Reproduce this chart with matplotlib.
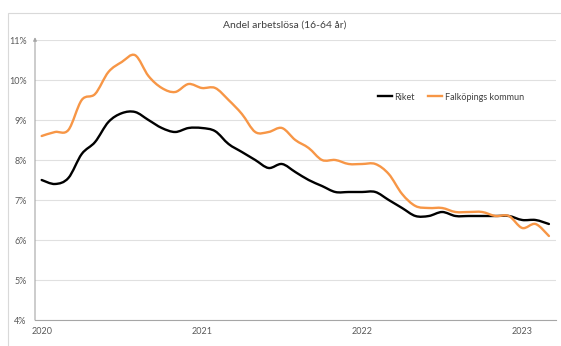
import numpy as np
import matplotlib
matplotlib.use('Agg')
import matplotlib.pyplot as plt
from matplotlib.patches import Rectangle, PathPatch
from matplotlib.path import Path
from matplotlib.lines import Line2D

plt.rcParams['font.family'] = ['Lato', 'DejaVu Sans']

# monthly values, jan 2020 - mar 2023 (percent)
riket = [7.5, 7.4, 7.55, 8.15, 8.45, 8.95, 9.17, 9.2, 9.0, 8.8, 8.7, 8.8,
         8.8, 8.72, 8.4, 8.2, 8.0, 7.8, 7.9, 7.7, 7.5, 7.35, 7.2, 7.2,
         7.2, 7.2, 7.0, 6.8, 6.6, 6.6, 6.7, 6.6, 6.6, 6.6, 6.6, 6.6,
         6.5, 6.5, 6.4]
falkoping = [8.6, 8.7, 8.75, 9.5, 9.65, 10.2, 10.45, 10.62, 10.1, 9.8, 9.7, 9.9,
             9.8, 9.8, 9.5, 9.15, 8.7, 8.7, 8.8, 8.5, 8.3, 8.0, 8.0, 7.9,
             7.9, 7.9, 7.65, 7.15, 6.85, 6.8, 6.8, 6.7, 6.7, 6.7, 6.6, 6.6,
             6.3, 6.4, 6.1]
year_labels = ['2020', '2021', '2022', '2023']
y_ticks = [4, 5, 6, 7, 8, 9, 10, 11]

months = np.arange(len(riket))


def smooth_path(x, y, k=1/6):
    # excel style smoothed line: bezier segments through the points
    x = np.asarray(x, float)
    y = np.asarray(y, float)
    verts = [(x[0], y[0])]
    codes = [Path.MOVETO]
    n = len(x)
    for i in range(n - 1):
        p0 = i - 1 if i > 0 else i
        p3 = i + 2 if i + 2 < n else i + 1
        c1 = (x[i] + k*(x[i+1]-x[p0]), y[i] + k*(y[i+1]-y[p0]))
        c2 = (x[i+1] - k*(x[p3]-x[i]), y[i+1] - k*(y[p3]-y[i]))
        verts += [c1, c2, (x[i+1], y[i+1])]
        codes += [Path.CURVE4]*3
    return Path(verts, codes)


fig = plt.figure(figsize=(5.61, 3.46), dpi=100)
ax = fig.add_axes([35/561, 1-320/346, (555.6-35)/561, 280/346])

# border of the excel chart box (cut off at right and bottom)
fig.patches.append(Rectangle((8/561, -0.2), 1.5, 1.2-13/346, transform=fig.transFigure,
                             fill=False, edgecolor='#d9d9d9', linewidth=0.8))

ax.add_patch(PathPatch(smooth_path(months, riket), fill=False, edgecolor='black',
                       lw=1.7, capstyle='round', joinstyle='round'))
ax.add_patch(PathPatch(smooth_path(months, falkoping), fill=False, edgecolor='#f79646',
                       lw=1.7, capstyle='round', joinstyle='round'))

ax.set_xlim(-0.5, len(riket) - 0.5)
ax.set_ylim(4, 11)
ax.set_yticks(y_ticks)
ax.set_yticklabels([f'{t}%' for t in y_ticks])
ax.set_xticks([0, 12, 24, 36])
ax.set_xticklabels(year_labels)
ax.tick_params(length=0, labelsize=6.5, labelcolor='#595959')
ax.tick_params(axis='y', pad=6)
ax.tick_params(axis='x', pad=5)
ax.grid(axis='y', color='#e0e0e0', lw=0.8)
ax.set_axisbelow(True)

for s in ['top', 'right', 'left']:
    ax.spines[s].set_visible(False)
ax.spines['bottom'].set_color('#a6a6a6')
ax.spines['bottom'].set_linewidth(0.8)

# y axis with arrow head
ax.annotate('', xy=(0, 1.01), xytext=(0, 0), xycoords='axes fraction',
            arrowprops=dict(arrowstyle='-|>', color='#a6a6a6', lw=0.8,
                            mutation_scale=5, shrinkA=0, shrinkB=0))

fig.text(285/561, 1-25/346, 'Andel arbetslösa (16-64 år)', ha='center', va='center',
         fontsize=7.5, color='#404040')

handles = [Line2D([], [], color='black', lw=1.7), Line2D([], [], color='#f79646', lw=1.7)]
ax.legend(handles, ['Riket', 'Falköpings kommun'], loc='center left',
          bbox_to_anchor=((370-35)/520.6, (346-97-26)/280), ncol=2,
          frameon=False, fontsize=6.5, handlelength=1.5, columnspacing=1.5,
          handletextpad=0.3, labelcolor='#404040')

fig.savefig('out.png', dpi=100)
